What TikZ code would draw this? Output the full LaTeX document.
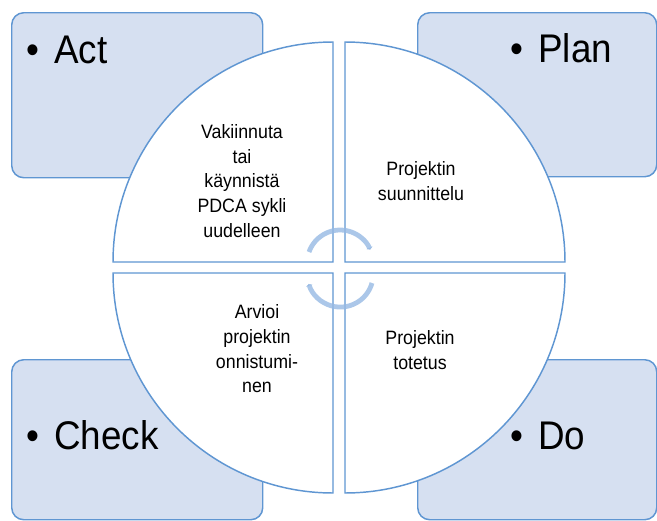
\documentclass[tikz,border=0pt]{standalone}
\usepackage{fontspec}
\setmainfont{Liberation Sans}
\newfontfamily\narrowfont[FakeStretch=0.92]{Liberation Sans}
\usetikzlibrary{arrows.meta}
\definecolor{boxfill}{RGB}{214,224,241}
\definecolor{boxline}{RGB}{95,150,210}
\definecolor{arrowcol}{RGB}{150,185,228}
\begin{document}
\begin{tikzpicture}
[x=0.75pt,y=-0.75pt,
box/.style ={rectangle, draw=boxline, line width=1.1pt, fill=boxfill,
rounded corners=9pt, inner sep=0pt, anchor=north west},
quad/.style ={draw=boxline, line width=1.1pt, fill=white},
quadtext/.style ={align=center, inner sep=0pt,
font=\narrowfont\fontsize{14.5}{18.5}\selectfont},
bigtext/.style ={anchor=base west, inner sep=0pt,
font=\narrowfont\fontsize{30}{34}\selectfont},
cyclearrow/.style ={draw=arrowcol, draw opacity=0.8, line width=3.6pt,
-{Triangle[length=1.5pt,width=5pt]}}]
\useasboundingbox (0,0) rectangle (657,521);
% corner boxes
\node [box, minimum width=188.25pt, minimum height=123.75pt] (actbox) at (11,12) {};
\node [box, minimum width=179.25pt, minimum height=123pt] (planbox) at (417,12) {};
\node [box, minimum width=188.25pt, minimum height=120pt] (checkbox) at (11,359) {};
\node [box, minimum width=179.25pt, minimum height=120pt] (dobox) at (417,359) {};
% four quarters of the circle
\path [quad] (333,262) -- (113,262) arc[start angle=180, end angle=270, radius=220] -- cycle;
\path [quad] (345,262) -- (345,42) arc[start angle=270, end angle=360, radius=220] -- cycle;
\path [quad] (333,273) -- (333,493) arc[start angle=90, end angle=180, radius=220] -- cycle;
\path [quad] (345,273) -- (565,273) arc[start angle=0, end angle=90, radius=220] -- cycle;
% circular arrows in the middle
\begin{scope}[every path/.style=cyclearrow]
\path (309,252) arc[start angle=199.5, end angle=336, radius=33];
\path (372,283) arc[start angle=15.7, end angle=162.6, radius=33];
\end{scope}
% texts of the quarters
\node [quadtext] (acttext) at (242,181) {Vakiinnuta\\tai\\käynnistä\\PDCA sykli\\uudelleen};
\node [quadtext] (plantext) at (421,181) {Projektin\\suunnittelu};
\node [quadtext] (checktext) at (257,349) {Arvioi\\projektin\\onnistumi-\\nen};
\node [quadtext] (dotext) at (420,350) {Projektin\\totetus};
% labels of the boxes
\node [bigtext] (act) at (26.5,63) {•\hspace{11pt}Act};
\node [bigtext] (plan) at (510.5,62) {•\hspace{11pt}Plan};
\node [bigtext] (check) at (26.5,449) {•\hspace{11pt}Check};
\node [bigtext] (do) at (510.5,449) {•\hspace{11pt}Do};
\end{tikzpicture}
\end{document}
